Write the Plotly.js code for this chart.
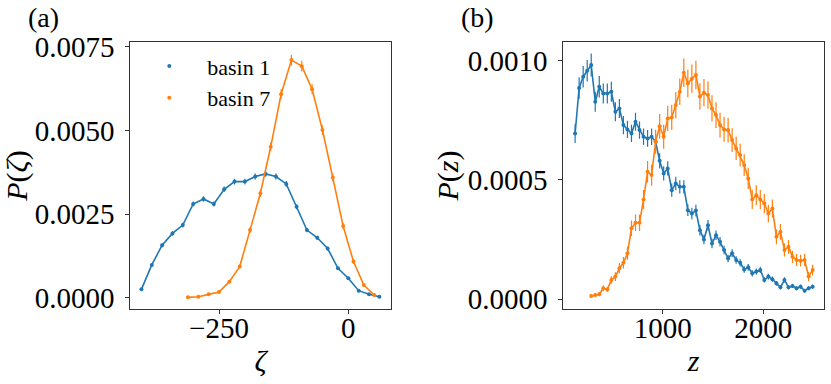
<!DOCTYPE html>
<html>
<head>
<meta charset="utf-8">
<script src="https://cdn.plot.ly/plotly-3.0.1.min.js"></script>
<style>
  html, body { margin: 0; padding: 0; background: #fff; }
  #chart { width: 831px; height: 384px; }
</style>
</head>
<body>
<div id="chart"></div>
<script>
'use strict'
// panel (a): P(zeta)
var zetaBasin1 = [-400, -380, -360, -340, -320, -300, -280, -260, -240, -220, -200, -180,
  -160, -140, -120, -100, -80, -60, -40, -20, 0, 20, 40, 60];
var pZetaBasin1 = [0.00025, 0.00098, 0.00157, 0.00192, 0.00217, 0.0028, 0.00295, 0.0028,
  0.00324, 0.00347, 0.00347, 0.00362, 0.0037, 0.00362, 0.0034, 0.00272, 0.00202, 0.00179,
  0.00147, 0.00088, 0.00058, 0.00021, 0.0001, 0.00003];
var errZetaBasin1 = [0.00002, 0.000045, 0.00006, 0.000065, 0.00007, 0.000078, 0.00008, 0.000078,
  0.000083, 0.000085, 0.000085, 0.000088, 0.000088, 0.000088, 0.000085, 0.000076, 0.000066,
  0.000062, 0.000056, 0.000044, 0.000036, 0.000022, 0.000015, 0.000008];

var zetaBasin7 = [-310, -290, -270, -250, -230, -210, -190, -170, -150, -130, -110, -90,
  -70, -50, -30, -10, 10, 30, 50];
var pZetaBasin7 = [0.00001, 0.00003, 0.0001, 0.00017, 0.00048, 0.00093, 0.00202, 0.00312,
  0.00451, 0.00608, 0.0071, 0.00692, 0.00623, 0.00501, 0.00359, 0.00214, 0.00108, 0.00038, 0.00008];
var errZetaBasin7 = [0.000005, 0.000008, 0.000015, 0.00002, 0.00004, 0.00006, 0.00009, 0.00011,
  0.00013, 0.00015, 0.00016, 0.00016, 0.00015, 0.00014, 0.00012, 0.0001, 0.00007, 0.00004, 0.000015];

// panel (b): P(z)
var zBins = [130, 170, 210, 250, 290, 330, 370, 410, 450, 490, 530, 570, 610, 650, 690, 730,
  770, 810, 850, 890, 930, 970, 1010, 1050, 1090, 1130, 1170, 1210, 1250, 1290, 1330, 1370,
  1410, 1450, 1490, 1530, 1570, 1610, 1650, 1690, 1730, 1770, 1810, 1850, 1890, 1930, 1970,
  2010, 2050, 2090, 2130, 2170, 2210, 2250, 2290, 2330, 2370, 2410, 2450, 2490];
var pZBasin1 = [0.000695, 0.000886, 0.000933, 0.000958, 0.000982, 0.000828, 0.000891, 0.000863,
  0.000863, 0.00087, 0.000786, 0.0008, 0.00073, 0.000712, 0.000695, 0.000744, 0.000709, 0.000681,
  0.000674, 0.000681, 0.00066, 0.00058, 0.000527, 0.000548, 0.000457, 0.000485, 0.000471, 0.000471,
  0.000373, 0.000359, 0.000371, 0.000289, 0.00025, 0.00031, 0.000233, 0.000268, 0.00024, 0.000206,
  0.00017, 0.000192, 0.000164, 0.000152, 0.000124, 0.000133, 0.000108, 0.000115, 0.000122, 0.00008,
  0.000094, 0.000083, 0.000066, 0.000049, 0.00008, 0.000049, 0.000055, 0.000045, 0.000052, 0.000035,
  0.000045, 0.000052];
var errZBasin1 = [0.00004, 0.000045, 0.000045, 0.000045, 0.000048, 0.000042, 0.000045, 0.000042,
  0.000042, 0.000042, 0.00004, 0.00004, 0.000038, 0.000036, 0.000036, 0.000038, 0.000036, 0.000035,
  0.000035, 0.000035, 0.000034, 0.000032, 0.00003, 0.00003, 0.000028, 0.000028, 0.000028, 0.000028,
  0.000025, 0.000024, 0.000025, 0.000022, 0.00002, 0.000022, 0.00002, 0.00002, 0.00002, 0.000018,
  0.000016, 0.000017, 0.000016, 0.000015, 0.000014, 0.000014, 0.000013, 0.000013, 0.000013, 0.000011,
  0.000012, 0.000011, 0.00001, 0.000009, 0.000011, 0.000009, 0.000009, 0.000008, 0.000009, 0.000007,
  0.000008, 0.000009];

var zBasin7 = zBins.slice(4);
var pZBasin7 = [0.000013, 0.000017, 0.00002, 0.000045, 0.00004, 0.00008, 0.000094, 0.000129,
  0.000152, 0.000192, 0.000297, 0.00032, 0.00032, 0.000418, 0.000534, 0.00052, 0.00066, 0.000725,
  0.000681, 0.000758, 0.000762, 0.000814, 0.00087, 0.00095, 0.000905, 0.000925, 0.00094, 0.00085,
  0.000866, 0.000856, 0.0008, 0.000772, 0.00073, 0.000712, 0.000709, 0.000667, 0.000632, 0.000604,
  0.000562, 0.000506, 0.000418, 0.000436, 0.000418, 0.000401, 0.000359, 0.00038, 0.000261, 0.000282,
  0.000206, 0.000219, 0.000177, 0.000164, 0.000161, 0.000164, 0.000094, 0.000122];
var errZBasin7 = [0.000006, 0.000007, 0.000008, 0.000012, 0.000011, 0.000016, 0.000018, 0.000022,
  0.000024, 0.000027, 0.000033, 0.000035, 0.000035, 0.00004, 0.000045, 0.000045, 0.00005, 0.000052,
  0.00005, 0.000053, 0.000053, 0.000055, 0.000056, 0.00006, 0.000058, 0.000059, 0.00006, 0.000056,
  0.000057, 0.000057, 0.000055, 0.000054, 0.000052, 0.000052, 0.000052, 0.00005, 0.000049, 0.000048,
  0.000046, 0.000044, 0.00004, 0.000041, 0.00004, 0.00004, 0.000037, 0.000038, 0.000031, 0.000033,
  0.000028, 0.000029, 0.000026, 0.000025, 0.000025, 0.000025, 0.000019, 0.000022];

var blue = '#1f77b4', orange = '#ff7f0e';
var serif = 'Liberation Serif';

/* one line trace plus one marker/errorbar trace per series,
   so the legend only shows the dot like matplotlib does */
function series(x, y, err, color, name, xa, ya, legend){
  var line = {
    type: 'scatter', mode: 'lines', x: x, y: y,
    xaxis: xa, yaxis: ya, showlegend: false, hoverinfo: 'skip',
    line: {color: color, width: 1.6}
  };
  var pts = {
    type: 'scatter', mode: 'markers', x: x, y: y, name: name,
    xaxis: xa, yaxis: ya, showlegend: legend,
    marker: {color: color, size: 4},
    error_y: {type: 'data', array: err, visible: true, color: color, thickness: 1.2, width: 0}
  };
  return [line, pts];
}

var graphData = [].concat(
  series(zetaBasin1, pZetaBasin1, errZetaBasin1, blue, 'basin 1', 'x', 'y', true),
  series(zetaBasin7, pZetaBasin7, errZetaBasin7, orange, 'basin 7', 'x', 'y', true),
  series(zBins, pZBasin1, errZBasin1, blue, 'basin 1', 'x2', 'y2', false),
  series(zBasin7, pZBasin7, errZBasin7, orange, 'basin 7', 'x2', 'y2', false)
);

function axis(extra){
  var base = {
    showline: true, mirror: true, linecolor: '#333', linewidth: 1,
    showgrid: false, zeroline: false,
    ticks: 'outside', ticklen: 4, tickwidth: 1, tickcolor: '#333',
    tickfont: {family: serif, size: 29, color: '#000'}
  };
  for (var k in extra) base[k] = extra[k];
  return base;
}

var yDom = [0.1945, 0.8914];

var layout = {
  width: 831,
  height: 384,
  margin: {l: 0, r: 0, t: 0, b: 0},
  paper_bgcolor: '#fff',
  plot_bgcolor: '#fff',
  font: {family: serif, color: '#000'},
  xaxis: axis({
    domain: [0.1568, 0.4702], range: [-421.5, 82], anchor: 'y',
    tick0: 0, dtick: 250, ticklabelstandoff: -11,
    title: {text: '<i>ζ</i>', font: {family: serif, size: 30}, standoff: 6}
  }),
  yaxis: axis({
    domain: yDom, range: [-0.000347, 0.00765], anchor: 'x',
    tick0: 0, dtick: 0.0025, tickformat: '.4f', ticklabelstandoff: 5,
    title: {text: '<i>P</i>(<i>ζ</i>)', font: {family: serif, size: 30}, standoff: 5}
  }),
  xaxis2: axis({
    domain: [0.6779, 0.9916], range: [13, 2603], anchor: 'y2',
    tick0: 0, dtick: 1000, ticklabelstandoff: -11,
    title: {text: '<i>z</i>', font: {family: serif, size: 30}, standoff: 6}
  }),
  yaxis2: axis({
    domain: yDom, range: [-0.0000432, 0.00108], anchor: 'x2',
    tick0: 0, dtick: 0.0005, tickformat: '.4f', ticklabelstandoff: 5,
    title: {text: '<i>P</i>(<i>z</i>)', font: {family: serif, size: 30}, standoff: 0}
  }),
  legend: {
    x: 0.158, y: 0.882, xanchor: 'left', yanchor: 'top',
    bgcolor: 'rgba(0,0,0,0)', borderwidth: 0,
    itemwidth: 66,
    font: {family: serif, size: 22, color: '#000'}
  },
  annotations: [
    {text: '(a)', xref: 'paper', yref: 'paper', x: 26 / 831, y: 1 - 17 / 384,
      xanchor: 'left', yanchor: 'middle', showarrow: false, font: {family: serif, size: 28}},
    {text: '(b)', xref: 'paper', yref: 'paper', x: 459 / 831, y: 1 - 17 / 384,
      xanchor: 'left', yanchor: 'middle', showarrow: false, font: {family: serif, size: 28}}
  ]
};

Plotly.newPlot('chart', graphData, layout, {displayModeBar: false, staticPlot: true});
</script>
</body>
</html>
